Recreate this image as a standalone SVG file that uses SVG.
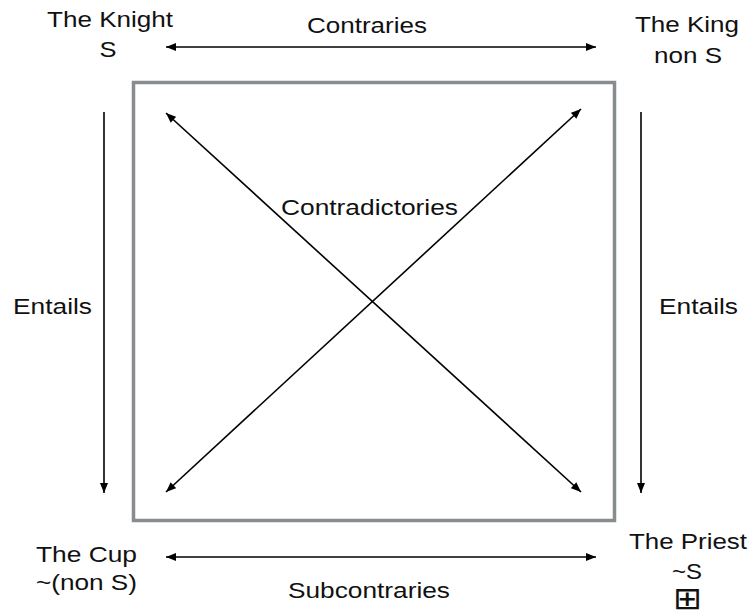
<svg xmlns="http://www.w3.org/2000/svg" width="752" height="613" viewBox="0 0 752 613">
<defs>
<marker id="ah" viewBox="0 0 10 8" refX="10" refY="4" markerWidth="11" markerHeight="8" markerUnits="userSpaceOnUse" orient="auto-start-reverse">
<path d="M0,0 L10,4 L0,8 Z" fill="#000"/>
</marker>
</defs>
<style>
text{font-family:"Liberation Sans",Arial,sans-serif;font-size:22px;fill:#111;text-anchor:middle}
.ln{stroke:#000;stroke-width:1.6;fill:none}
.box{stroke:#898c8f;stroke-width:3.5;fill:none}
</style>
<rect id="square" class="box" x="133.5" y="82.5" width="481" height="438"/>
<g id="connectors">
<line class="ln" x1="166" y1="47" x2="596" y2="47" marker-start="url(#ah)" marker-end="url(#ah)"/>
<line class="ln" x1="166" y1="557" x2="596" y2="557" marker-start="url(#ah)" marker-end="url(#ah)"/>
<line class="ln" x1="104" y1="112" x2="104" y2="493" marker-end="url(#ah)"/>
<line class="ln" x1="641" y1="112" x2="641" y2="493" marker-end="url(#ah)"/>
<line class="ln" x1="166" y1="113" x2="581" y2="492" marker-start="url(#ah)" marker-end="url(#ah)"/>
<line class="ln" x1="581" y1="109" x2="166" y2="492" marker-start="url(#ah)" marker-end="url(#ah)"/>
</g>
<g id="knight">
<text x="110" y="27" textLength="126" lengthAdjust="spacingAndGlyphs">The Knight</text>
<text x="108" y="57" textLength="17" lengthAdjust="spacingAndGlyphs">S</text>
</g>
<g id="king">
<text x="687" y="32" textLength="104" lengthAdjust="spacingAndGlyphs">The King</text>
<text x="688" y="63" textLength="68" lengthAdjust="spacingAndGlyphs">non S</text>
</g>
<g id="cup">
<text x="86.5" y="562" textLength="101" lengthAdjust="spacingAndGlyphs">The Cup</text>
<text x="86.5" y="590" textLength="101" lengthAdjust="spacingAndGlyphs">~(non S)</text>
</g>
<g id="priest">
<text x="688" y="549" textLength="118" lengthAdjust="spacingAndGlyphs">The Priest</text>
<text x="687" y="579" textLength="30" lengthAdjust="spacingAndGlyphs">~S</text>
<text x="687.5" y="609" style="font-family:'DejaVu Sans',sans-serif;font-size:31px" textLength="29" lengthAdjust="spacingAndGlyphs">⊞</text>
</g>
<g id="labels">
<text x="367" y="33" textLength="120" lengthAdjust="spacingAndGlyphs">Contraries</text>
<text x="369.5" y="215" textLength="177" lengthAdjust="spacingAndGlyphs">Contradictories</text>
<text x="52.5" y="314" textLength="79" lengthAdjust="spacingAndGlyphs">Entails</text>
<text x="698.5" y="314" textLength="79" lengthAdjust="spacingAndGlyphs">Entails</text>
<text x="369" y="598" textLength="162" lengthAdjust="spacingAndGlyphs">Subcontraries</text>
</g>
</svg>
